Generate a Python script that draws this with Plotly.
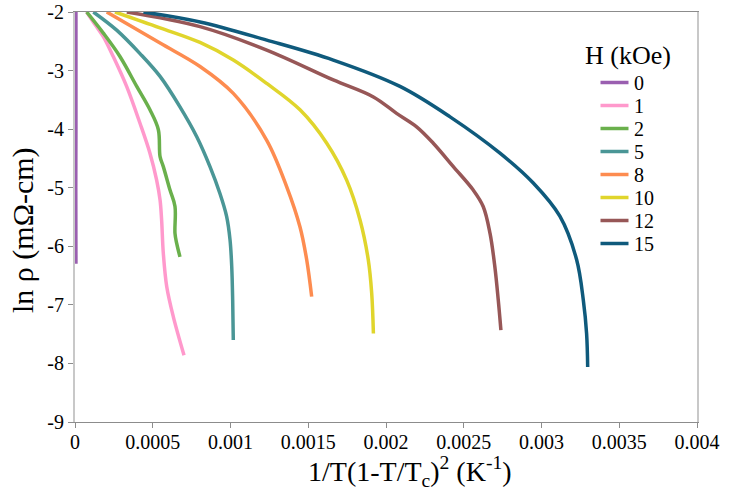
import plotly.graph_objects as go

# Field labels (kOe) and colours
fields = ["0", "1", "2", "5", "8", "10", "12", "15"]
colors = ["#9a5fb0", "#ff99cc", "#6ab04c", "#4a9696", "#fd8c50", "#e0d52c", "#975757", "#0f5a7c"]

# x = 1/T(1-T/Tc)^2 (K^-1), y = ln rho (mOhm-cm)
x0 = [0.000006, 0.000006, 0.000005, 0.000006]
y0 = [-2.0, -4.0, -5.0, -6.3]

x1 = [0.000075, 0.00013, 0.000182, 0.000246, 0.000332, 0.000418, 0.000482, 0.000525,
      0.000547, 0.000557, 0.000568, 0.000590, 0.000632, 0.000701]
y1 = [-2.0, -2.22, -2.42, -2.76, -3.27, -3.90, -4.41, -4.87,
      -5.21, -5.55, -6.12, -6.69, -7.20, -7.86]

x2 = [0.000075, 0.000182, 0.000289, 0.000397, 0.000482, 0.000536, 0.000547, 0.000568,
      0.000611, 0.000643, 0.000643, 0.000654, 0.000675]
y2 = [-2.0, -2.36, -2.76, -3.27, -3.67, -4.01, -4.47, -4.64,
      -5.04, -5.32, -5.78, -5.95, -6.18]

x5 = [0.000118, 0.000268, 0.000418, 0.000547, 0.000675, 0.000783, 0.000868, 0.000932,
      0.000975, 0.000997, 0.001008, 0.001014, 0.001018]
y5 = [-2.0, -2.31, -2.71, -3.10, -3.62, -4.13, -4.64, -5.10,
      -5.49, -5.89, -6.35, -6.92, -7.60]

x8 = [0.000204, 0.000547, 0.000804, 0.001018, 0.001233, 0.001361, 0.001447, 0.00149, 0.001522]
y8 = [-2.0, -2.53, -2.93, -3.39, -4.19, -4.98, -5.67, -6.23, -6.86]

x10 = [0.000257, 0.000547, 0.000804, 0.001018, 0.001233, 0.001447, 0.001619, 0.001747,
       0.001833, 0.001886, 0.001908, 0.001919]
y10 = [-2.0, -2.27, -2.52, -2.82, -3.22, -3.67, -4.24, -4.87,
       -5.55, -6.23, -6.80, -7.49]

x12 = [0.000333, 0.000804, 0.001233, 0.001661, 0.001919, 0.002068, 0.002197, 0.002304,
       0.002433, 0.002561, 0.002625, 0.002669, 0.0027, 0.002722, 0.002739]
y12 = [-2.0, -2.25, -2.65, -3.16, -3.45, -3.73, -3.96, -4.24,
       -4.64, -5.04, -5.32, -5.78, -6.35, -6.92, -7.43]

x15 = [0.00044, 0.000804, 0.001233, 0.001661, 0.00209, 0.002412, 0.002733, 0.002947,
       0.003119, 0.003226, 0.003269, 0.00329, 0.003297]
y15 = [-2.0, -2.17, -2.48, -2.82, -3.27, -3.79, -4.41, -4.92,
       -5.49, -6.23, -6.92, -7.49, -8.06]

xs = [x0, x1, x2, x5, x8, x10, x12, x15]
ys = [y0, y1, y2, y5, y8, y10, y12, y15]

x_tickvals = [0, 0.0005, 0.001, 0.0015, 0.002, 0.0025, 0.003, 0.0035, 0.004]
x_ticktext = ["0", "0.0005", "0.001", "0.0015", "0.002", "0.0025", "0.003", "0.0035", "0.004"]
y_tickvals = [-9, -8, -7, -6, -5, -4, -3, -2]
y_ticktext = ["-9", "-8", "-7", "-6", "-5", "-4", "-3", "-2"]

legend_title = "H (kOe)"
x_title = "1/T(1-T/T<sub>c</sub>)<sup>2</sup> (K<sup>-1</sup>)"
y_title = "ln ρ (mΩ-cm)"

serif = "Liberation Serif, Times New Roman, serif"

W, H = 729, 496
ML, MR, MT, MB = 75, 32, 12, 74
PW, PH = W - ML - MR, H - MT - MB


def px_x(p):
    return (p - ML) / PW


def px_y(p):
    return (H - MB - p) / PH


fig = go.Figure()
for name, col, xv, yv in zip(fields, colors, xs, ys):
    fig.add_trace(go.Scatter(
        x=xv, y=yv, mode="lines", name=name, showlegend=False,
        line=dict(color=col, width=3.5, shape="spline", smoothing=1.0),
    ))

annotations = []
shapes = []
# legend drawn as text + swatches
annotations.append(dict(text=legend_title, x=px_x(627.5), y=px_y(56), xref="paper", yref="paper",
                        xanchor="center", yanchor="middle", showarrow=False,
                        font=dict(family=serif, size=26, color="black")))
for i, (name, col) in enumerate(zip(fields, colors)):
    yc = 82.5 + 23 * i
    shapes.append(dict(type="line", xref="paper", yref="paper",
                       x0=px_x(600.5), x1=px_x(628.5), y0=px_y(yc), y1=px_y(yc),
                       line=dict(color=col, width=3.5)))
    annotations.append(dict(text=name, x=px_x(632), y=px_y(yc + 0.5), xref="paper", yref="paper",
                            xanchor="left", yanchor="middle", showarrow=False,
                            font=dict(family=serif, size=20, color="black")))

# axis titles
annotations.append(dict(text=x_title, x=px_x(410), y=px_y(471), xref="paper", yref="paper",
                        xanchor="center", yanchor="middle", showarrow=False,
                        font=dict(family=serif, size=28, color="black")))
annotations.append(dict(text=y_title, x=px_x(23), y=px_y(230), xref="paper", yref="paper",
                        xanchor="center", yanchor="middle", showarrow=False, textangle=-90,
                        font=dict(family=serif, size=30, color="black")))

fig.update_layout(
    width=W, height=H,
    margin=dict(l=ML, r=MR, t=MT, b=MB),
    paper_bgcolor="white", plot_bgcolor="white",
    font=dict(family=serif, color="black"),
    showlegend=False,
    annotations=annotations,
    shapes=shapes,
    xaxis=dict(
        range=[0, 0.004], tickvals=x_tickvals, ticktext=x_ticktext,
        showgrid=False, zeroline=False, automargin=False,
        showline=True, linecolor="#8c8c8c", linewidth=1, mirror=True,
        ticks="outside", ticklen=5, tickcolor="#8c8c8c",
        ticklabelstandoff=-3,
        tickfont=dict(size=20, family=serif, color="black"),
    ),
    yaxis=dict(
        range=[-9, -2], tickvals=y_tickvals, ticktext=y_ticktext,
        showgrid=False, zeroline=False, automargin=False,
        showline=True, linecolor="#c8c8c8", linewidth=2, mirror=True,
        ticks="outside", ticklen=5, tickcolor="#8c8c8c",
        tickfont=dict(size=20, family=serif, color="black"),
    ),
)

fig.write_html("out.html", config={"displayModeBar": False},
               post_script="document.body.style.margin='0';")
